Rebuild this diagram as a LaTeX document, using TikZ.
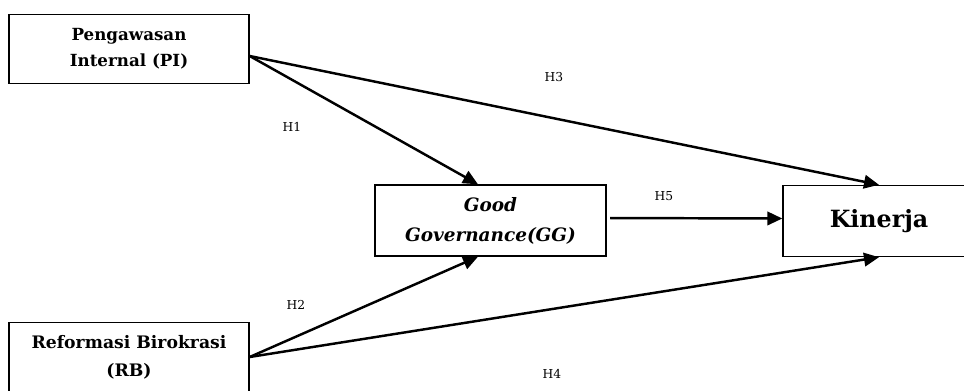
\documentclass[tikz,border=0pt]{standalone}
\usepackage{fontspec}
\setmainfont{DejaVu Serif}
\usetikzlibrary{arrows.meta}

\begin{document}
\begin{tikzpicture}[
        x=0.02cm, y=-0.02cm,
        varbox/.style={rectangle, draw=black, line width=0.8pt, minimum width=4.8cm, minimum height=1.38cm, align=center, inner sep=2pt, font=\fontsize{9.5}{15}\selectfont\bfseries},
        hiplabel/.style={inner sep=1pt, font=\fontsize{7}{8}\selectfont},
        seta/.style={-{Triangle[length=0.3cm, width=0.27cm]}, line width=1.4pt}
        ]
        \useasboundingbox (0,0) rectangle (964,390);

        % variabel
        \node [varbox] (pi) at (129,49) {Pengawasan\\Internal (PI)};
        \node [varbox, font=\fontsize{9.8}{16}\selectfont\bfseries] (rb) at (129,357) {Reformasi Birokrasi\\(RB)};
        \node [varbox, minimum width=4.62cm, minimum height=1.42cm, font=\fontsize{10.5}{17}\selectfont\bfseries\itshape] (gg) at (490.5,220.5) {Good\\Governance(GG)};
        \node [varbox, minimum width=3.84cm, minimum height=1.42cm, font=\fontsize{13.5}{16}\selectfont\bfseries] (kin) at (879,221) {Kinerja};

        \coordinate (pi-out) at ([yshift=-0.14cm]pi.east);

        % hipotesis
        \draw[seta] (pi-out) -- ([xshift=-0.25cm]gg.north);
        \draw[seta] (rb.east) -- ([xshift=-0.25cm]gg.south);
        \draw[seta] (pi-out) -- (kin.north);
        \draw[seta] (rb.east) -- (kin.south);
        \draw[seta, shorten <=2pt] ([yshift=0.05cm]gg.east) -- ([yshift=0.05cm]kin.west);

        \node [hiplabel] (h1) at (292,127) {H1};
        \node [hiplabel] (h2) at (296,305) {H2};
        \node [hiplabel] (h3) at (554,77) {H3};
        \node [hiplabel] (h4) at (552,374) {H4};
        \node [hiplabel] (h5) at (664,196) {H5};
\end{tikzpicture}
\end{document}
